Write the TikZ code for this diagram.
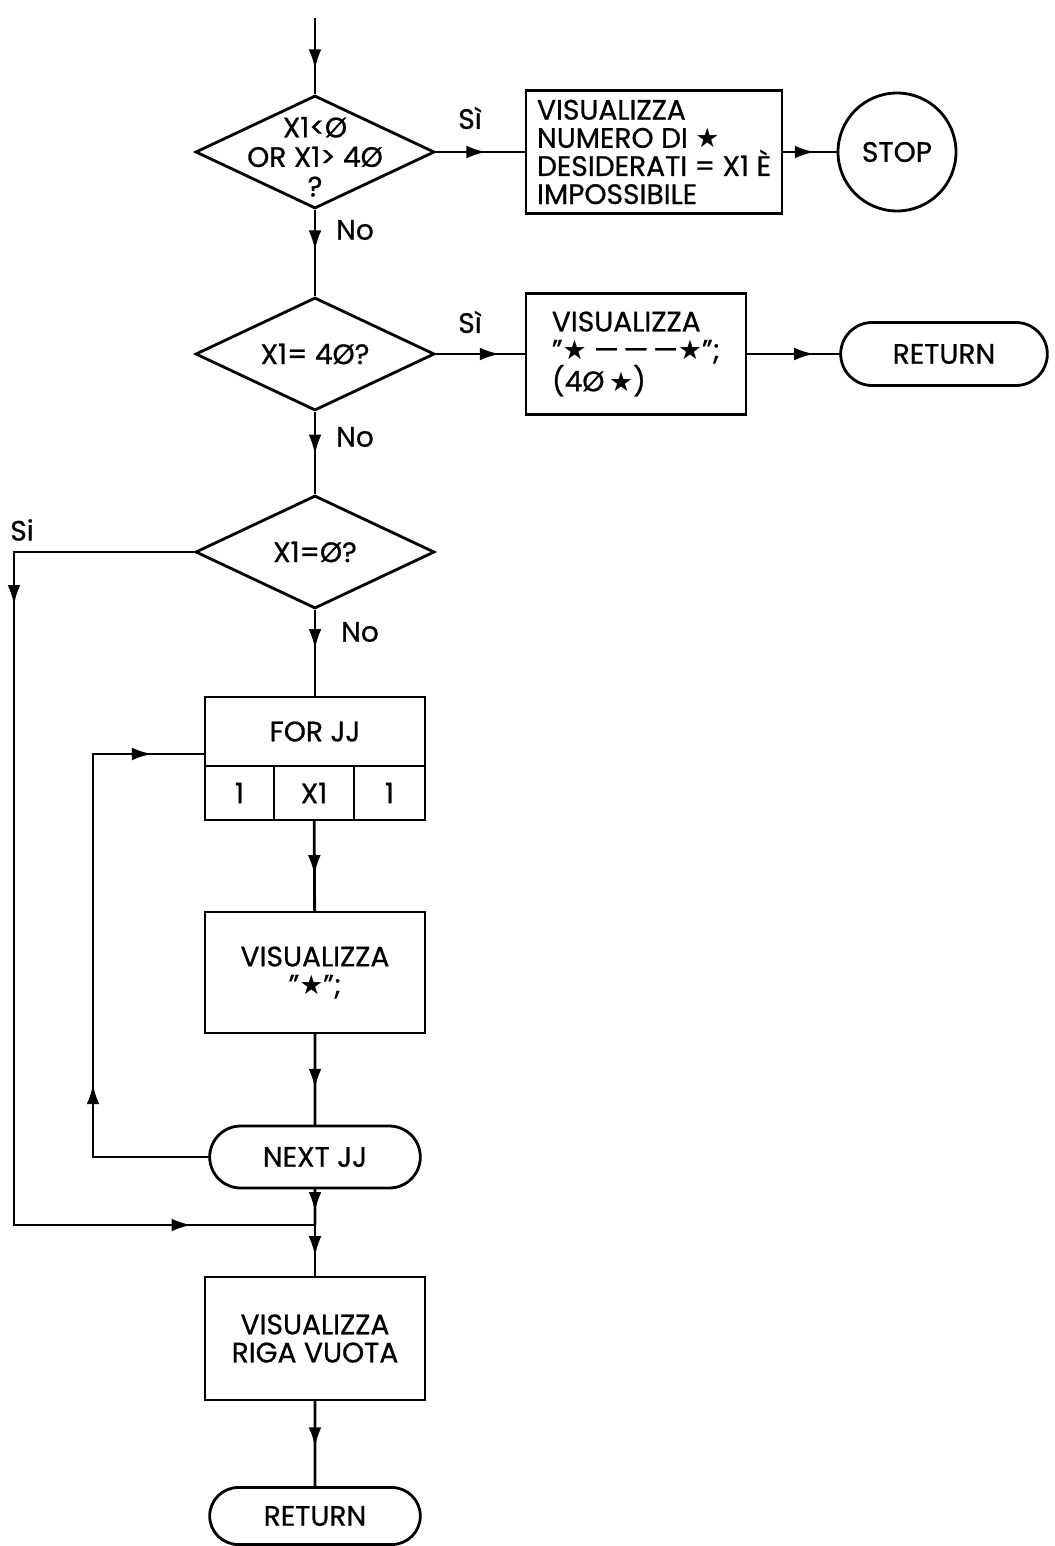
\documentclass[tikz,border=0pt]{standalone}
\usepackage{fontspec}
\setmainfont{Poppins}[FakeBold=0.8]
\newfontfamily\starfont[Scale=0.95]{DejaVu Sans}
\newcommand{\stella}{{\starfont ★}}
\usetikzlibrary{positioning,arrows.meta,shapes.geometric,shapes.misc,decorations.markings}

\begin{document}
\begin{tikzpicture}[
  every node/.style={font=\fontsize{20}{20}\selectfont},
  line width=2pt,
  >={Latex[length=0.5cm,width=0.32cm]},
  decision/.style={draw, diamond, aspect=2.1, inner sep=0pt, minimum width=5.975cm, minimum height=2.825cm, align=center},
  process/.style={draw, rectangle, outer sep=0pt, minimum width=5.5cm, minimum height=3.025cm, align=center},
  terminal/.style={draw, rounded rectangle, outer sep=0pt, minimum width=5.5cm, minimum height=1.55cm},
  halt/.style={draw, circle, minimum size=2.95cm},
  lbl/.style={inner sep=0pt},
  flow/.style={postaction={decorate}, decoration={markings, mark=at position #1 with {\arrow{>}}}},
  flow/.default=0.5
]
\useasboundingbox (0,0) rectangle (26.35,-38.65);

% main column
\coordinate (start) at (7.875,-0.45);
\node[decision, label={[align=center, yshift=-0.12cm, font=\fontsize{20}{21}\selectfont]center:X1<Ø\\OR X1> 4Ø\\?}] (dec1) at (7.875,-3.8) {};
\node[process, minimum width=6.4cm, minimum height=3.075cm, align=left] (show1) at (16.35,-3.8) {VISUALIZZA\\NUMERO DI \stella\\DESIDERATI = X1 È\\IMPOSSIBILE};
\node[halt] (stop) at (22.425,-3.8) {STOP};

\node[decision] (dec2) at (7.875,-8.85) {X1= 4Ø?};
\node[process, align=left] (show2) at (15.9,-8.85) {VISUALIZZA\\"\stella{} ---\,---\,---\stella";\\(4Ø\,\stella)};
\node[terminal, minimum width=5.4cm, minimum height=1.575cm] (ret1) at (23.6,-8.85) {RETURN};

\node[decision] (dec3) at (7.875,-13.8) {X1=Ø?};

% FOR box with its three cells
\node[process, minimum height=1.725cm] (forjj) at (7.875,-18.2875) {FOR JJ};
\node[process, minimum width=1.725cm, minimum height=1.35cm, anchor=north west] (forfrom) at (forjj.south west) {1};
\node[process, minimum width=2cm, minimum height=1.35cm, right=0pt of forfrom] (forto) {X1};
\node[process, minimum width=1.775cm, minimum height=1.35cm, right=0pt of forto] (forstep) {1};

\node[process] (show3) at (7.875,-24.3125) {VISUALIZZA\\"\stella";};
\node[terminal] (next) at (7.875,-28.925) {NEXT JJ};
\coordinate (join) at (7.875,-30.625);
\node[process, minimum height=3.075cm] (show4) at (7.875,-33.4625) {VISUALIZZA\\RIGA VUOTA};
\node[terminal, minimum height=1.425cm] (ret2) at (7.875,-37.9) {RETURN};

% labels
\node[lbl] (si1) at (11.75,-2.95) {Sì};
\node[lbl] (si2) at (11.75,-8.05) {Sì};
\node[lbl] (si3) at (0.55,-13.25) {Si};
\node[lbl] (no1) at (8.875,-5.75) {No};
\node[lbl] (no2) at (8.875,-10.925) {No};
\node[lbl] (no3) at (9.0,-15.8) {No};

% connectors
\draw[flow=0.675] (start) -- (dec1);
\draw[flow=0.56] (dec1) -- (show1);
\draw[flow=0.6] (show1) -- (stop);
\draw[flow=0.47] (dec1) -- (dec2);
\draw[flow=0.71] (dec2) -- (show2);
\draw[flow=0.72] (show2) -- (ret1);
\draw[flow=0.52] (dec2) -- (dec3);
\draw[flow=0.45] (dec3) -- (forjj);
\draw[flow=0.6] (forto) -- (show3);
\draw[flow=0.6] (show3) -- (next);
\draw[flow=0.65] (next) -- (join);
\draw[flow=0.6] (join) -- (show4);
\draw[flow=0.54] (show4) -- (ret2);

% bypass when X1 = 0
\coordinate (byA) at (0.35,-13.8);
\coordinate (byB) at (0.35,-30.625);
\draw[postaction={decorate}, decoration={markings,
  mark=at position 0.202 with {\arrow{>}},
  mark=at position 0.893 with {\arrow{>}}}]
  (dec3.west) -- (byA) -- (byB) -- (join);

% loop back to FOR
\coordinate (loopA) at (2.325,-28.925);
\coordinate (loopB) at (2.325,-18.85);
\draw[postaction={decorate}, decoration={markings,
  mark=at position 0.30 with {\arrow{>}},
  mark=at position 0.916 with {\arrow{>}}}]
  (next.west) -- (loopA) -- (loopB) -- (loopB -| forjj.west);
\end{tikzpicture}
\end{document}
